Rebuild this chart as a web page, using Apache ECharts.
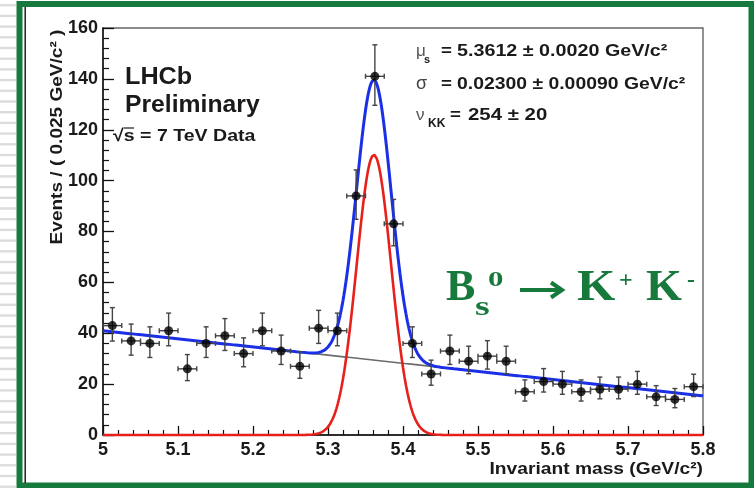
<!DOCTYPE html>
<html>
<head>
<meta charset="utf-8">
<title>LHCb Bs to KK invariant mass</title>
<script src="https://cdn.jsdelivr.net/npm/echarts@6/dist/echarts.min.js"></script>
<style>
  html, body { margin: 0; padding: 0; background: #ffffff; }
  #chart { width: 754px; height: 488px; }
</style>
</head>
<body>
<div id="chart"></div>
<script>
// Bin centres (GeV/c^2), bin width 0.025
const binCentres = [
  5.0125, 5.0375, 5.0625, 5.0875, 5.1125, 5.1375, 5.1625, 5.1875,
  5.2125, 5.2375, 5.2625, 5.2875, 5.3125, 5.3375, 5.3625, 5.3875,
  5.4125, 5.4375, 5.4625, 5.4875, 5.5125, 5.5375, 5.5625, 5.5875,
  5.6125, 5.6375, 5.6625, 5.6875, 5.7125, 5.7375, 5.7625, 5.7875
];
// Events per bin
const binCounts = [
  43, 37, 36, 41, 26, 36, 39, 32,
  41, 33, 27, 42, 41, 94, 141, 83,
  36, 24, 33, 29, 31, 29, 17, 21,
  20, 17, 18, 18, 20, 15, 14, 19
];
const binWidth = 0.025;

// Fit result: Gaussian signal on a linear background
const fitMean = 5.3612;
const fitSigma = 0.02300;
const signalYield = 254;
const bkgAtLow = 41.0;   // background level at 5.0 GeV/c^2
const bkgAtHigh = 15.4;  // background level at 5.8 GeV/c^2

const xMin = 5.0, xMax = 5.8;
const yMin = 0, yMax = 160;

const FONT = '"Liberation Sans", Arial, Helvetica, sans-serif';
const SERIF = '"Liberation Serif", "Times New Roman", serif';
const GREEN = '#177a3c';

function background(m) {
  return bkgAtLow + (bkgAtHigh - bkgAtLow) * (m - xMin) / (xMax - xMin);
}
function signal(m) {
  const norm = signalYield * binWidth / (fitSigma * Math.sqrt(2 * Math.PI));
  const z = (m - fitMean) / fitSigma;
  return norm * Math.exp(-0.5 * z * z);
}

// Sample the fitted model along the mass axis
const curveSig = [], curveBkg = [], curveTot = [];
for (let i = 0; i <= 800; i++) {
  const m = xMin + (xMax - xMin) * i / 800;
  const s = signal(m), b = background(m);
  curveSig.push([m, s]);
  curveBkg.push([m, b]);
  curveTot.push([m, s + b]);
}

// Points with approximate Poisson error bars
const points = binCentres.map((m, i) => [m, binCounts[i]]);
const errorBars = binCentres.map((m, i) => {
  const n = binCounts[i];
  const r = Math.sqrt(n + 0.25);
  return [m, n, n - (r - 0.5), n + (r + 0.5)];
});

function renderErrorBar(params, api) {
  const m = api.value(0);
  const lo = api.coord([m, api.value(2)]);
  const hi = api.coord([m, api.value(3)]);
  const left = api.coord([m - binWidth / 2, api.value(1)]);
  const right = api.coord([m + binWidth / 2, api.value(1)]);
  const cap = 2.5;
  const style = { stroke: '#444', lineWidth: 1.4 };
  const seg = (x1, y1, x2, y2) => ({ type: 'line', shape: { x1, y1, x2, y2 }, style });
  return {
    type: 'group',
    children: [
      seg(lo[0], lo[1], hi[0], hi[1]),
      seg(lo[0] - cap, lo[1], lo[0] + cap, lo[1]),
      seg(hi[0] - cap, hi[1], hi[0] + cap, hi[1]),
      seg(left[0], left[1], right[0], right[1]),
      seg(left[0], left[1] - cap, left[0], left[1] + cap),
      seg(right[0], right[1] - cap, right[0], right[1] + cap)
    ]
  };
}

// Decorative slide elements: striped margin and green border
const slideDecor = [];
for (let y = 4; y < 488; y += 10.7) {
  slideDecor.push({
    type: 'rect', silent: true, z: 90,
    shape: { x: 0, y: y, width: 16, height: 2.4 },
    style: { fill: '#dcdcdc' }
  });
}
slideDecor.push({
  type: 'rect', silent: true, z: 100,
  shape: { x: 19.5, y: 4, width: 732, height: 481.5 },
  style: { fill: 'none', stroke: '#167a3f', lineWidth: 6 }
});
slideDecor.push({
  type: 'line', silent: true, z: 100,
  shape: { x1: 25.2, y1: 7, x2: 25.2, y2: 483 },
  style: { stroke: '#111', lineWidth: 1.4 }
});

function txt(text, x, y, font, opts) {
  opts = opts || {};
  return {
    type: 'text', silent: true, z: 110,
    x: x, y: y, rotation: opts.rotation || 0,
    scaleX: opts.sx || 1, scaleY: 1,
    style: {
      text: text, font: font, fill: opts.fill || '#1a1a1a',
      textAlign: opts.align || 'left', align: opts.align || 'left',
      textVerticalAlign: 'middle', verticalAlign: 'middle'
    }
  };
}

const annotations = [
  // experiment label
  txt('LHCb', 125, 77, 'bold 24px ' + FONT, { sx: 1.05 }),
  txt('Preliminary', 125, 105, 'bold 24px ' + FONT, { sx: 1.03 }),
  txt('\u221As = 7 TeV Data', 113, 136, 'bold 17px ' + FONT, { sx: 1.15 }),
  { type: 'line', silent: true, z: 110,
    shape: { x1: 124, y1: 128, x2: 134, y2: 128 },
    style: { stroke: '#1a1a1a', lineWidth: 1.2 } },

  // fit parameters
  txt('\u03BC', 416, 51, '17px ' + FONT, { fill: '#555' }),
  txt('s', 424, 60, 'bold 11px ' + FONT),
  txt('=', 441, 51, 'bold 17px ' + FONT, { sx: 1.1 }),
  txt('5.3612 \u00B1 0.0020 GeV/c\u00B2', 457, 51, 'bold 17px ' + FONT, { sx: 1.16 }),
  txt('\u03C3', 416, 84, '18px ' + FONT, { fill: '#444' }),
  txt('=', 441, 84, 'bold 17px ' + FONT, { sx: 1.1 }),
  txt('0.02300 \u00B1 0.00090 GeV/c\u00B2', 457, 84, 'bold 17px ' + FONT, { sx: 1.14 }),
  txt('\u03BD', 416, 115, '17px ' + FONT, { fill: '#555' }),
  txt('KK', 428, 124, 'bold 12px ' + FONT),
  txt('=', 450, 115, 'bold 17px ' + FONT, { sx: 1.1 }),
  txt('254 \u00B1 20', 468, 115, 'bold 17px ' + FONT, { sx: 1.2 }),

  // decay channel
  txt('B', 446, 289, 'bold 44px ' + SERIF, { fill: GREEN }),
  txt('s', 475, 308, 'bold 28px ' + SERIF, { fill: GREEN, sx: 1.35 }),
  txt('0', 488, 280, 'bold 22px ' + SERIF, { fill: GREEN, sx: 1.4 }),
  { type: 'line', silent: true, z: 110,
    shape: { x1: 520, y1: 290, x2: 560, y2: 290 },
    style: { stroke: GREEN, lineWidth: 4 } },
  { type: 'polyline', silent: true, z: 110,
    shape: { points: [[551, 282.5], [562, 290], [551, 297.5]] },
    style: { stroke: GREEN, lineWidth: 4, fill: 'none' } },
  txt('K', 577, 289, 'bold 44px ' + SERIF, { fill: GREEN, sx: 1.12 }),
  txt('+', 619, 281, 'bold 24px ' + SERIF, { fill: GREEN }),
  txt('K', 646, 289, 'bold 44px ' + SERIF, { fill: GREEN, sx: 1.05 }),
  txt('-', 687, 281, 'bold 24px ' + SERIF, { fill: GREEN }),

  // axis titles
  txt('Invariant mass (GeV/c\u00B2)', 703, 469, 'bold 17px ' + FONT, { align: 'right', sx: 1.13 }),
  txt('Events / ( 0.025 GeV/c\u00B2 )', 57, 137, 'bold 17px ' + FONT,
      { align: 'center', rotation: Math.PI / 2, sx: 1.12 })
];

const chart = echarts.init(document.getElementById('chart'), null, { renderer: 'canvas' });
chart.setOption({
  animation: false,
  backgroundColor: '#ffffff',
  grid: {
    left: 103, right: 51, top: 28, bottom: 53,
    show: true, borderColor: '#666', borderWidth: 1.4, backgroundColor: 'transparent'
  },
  xAxis: {
    type: 'value', min: xMin, max: xMax, interval: 0.1,
    axisLine: { show: true, onZero: false, lineStyle: { color: '#111', width: 1.5 } },
    axisTick: { show: true, inside: true, length: 9, lineStyle: { color: '#111', width: 1.3 } },
    minorTick: { show: true, splitNumber: 5, length: 5, lineStyle: { color: '#111', width: 1.2 } },
    splitLine: { show: false },
    axisLabel: {
      margin: 6, color: '#1a1a1a', fontFamily: FONT, fontWeight: 'bold', fontSize: 18,
      formatter: v => (Math.abs(v - 5) < 1e-9 ? '5' : v.toFixed(1))
    }
  },
  yAxis: {
    type: 'value', min: yMin, max: yMax, interval: 20,
    axisLine: { show: true, onZero: false, lineStyle: { color: '#111', width: 1.5 } },
    axisTick: { show: true, inside: true, length: 11, lineStyle: { color: '#111', width: 1.3 } },
    minorTick: { show: true, splitNumber: 5, length: 6, lineStyle: { color: '#111', width: 1.2 } },
    splitLine: { show: false },
    axisLabel: {
      margin: 5, color: '#1a1a1a', fontFamily: FONT, fontWeight: 'bold', fontSize: 18
    }
  },
  graphic: slideDecor.concat(annotations),
  series: [
    {
      name: 'background', type: 'line', data: curveBkg, showSymbol: false, clip: false,
      lineStyle: { color: '#6b6b6b', width: 1.6 }, z: 2
    },
    {
      name: 'signal', type: 'line', data: curveSig, showSymbol: false, clip: false,
      lineStyle: { color: '#e8201c', width: 2.6 }, z: 3
    },
    {
      name: 'total', type: 'line', data: curveTot, showSymbol: false, clip: false,
      lineStyle: { color: '#1b30e6', width: 3 }, z: 4
    },
    {
      name: 'errors', type: 'custom', data: errorBars, renderItem: renderErrorBar,
      encode: { x: 0, y: [1, 2, 3] }, z: 5, silent: true
    },
    {
      name: 'data', type: 'scatter', data: points, symbol: 'circle', symbolSize: 9,
      itemStyle: { color: '#000' }, z: 6, silent: true
    }
  ]
});
</script>
</body>
</html>
